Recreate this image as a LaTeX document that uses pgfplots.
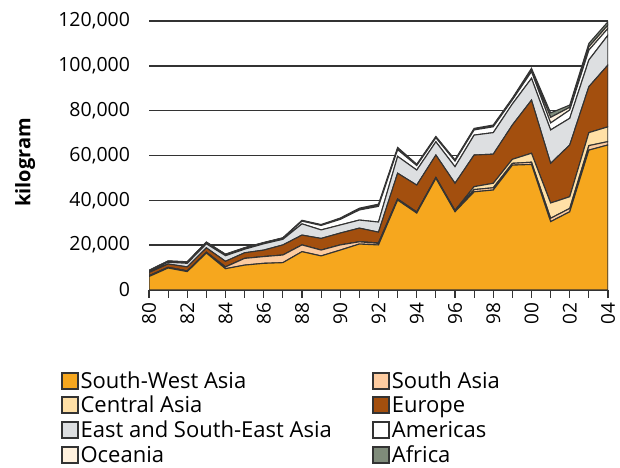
\documentclass[border=0pt]{standalone}
\usepackage{fontspec}
\setmainfont{Open Sans}
\setsansfont{Open Sans}
\usepackage{pgfplots}
\pgfplotsset{compat=1.18}

\definecolor{swasia}{HTML}{F6A71E}
\definecolor{sasia}{HTML}{FCCBA0}
\definecolor{casia}{HTML}{FFE0A6}
\definecolor{europe}{HTML}{A34F0E}
\definecolor{esasia}{HTML}{DDDFE1}
\definecolor{americas}{HTML}{FFFFFF}
\definecolor{oceania}{HTML}{FFF1DD}
\definecolor{africa}{HTML}{7F8B7A}
\definecolor{edge}{HTML}{333333}

% seizures by region, kilogram
\begin{document}
\begin{tikzpicture}
\useasboundingbox (0,0) rectangle (620bp,468bp);
\begin{axis}[
    at={(149bp,178bp)}, anchor=south west,
    scale only axis,
    width=459bp, height=269bp,
    xmin=1980, xmax=2004,
    ymin=0, ymax=120000,
    stack plots=y,
    axis lines*=left,
    y axis line style={draw=none},
    x axis line style={edge, line width=1.2bp},
    tick align=outside,
    major tick length=7.5bp,
    minor tick length=7.5bp,
    tick style={edge, line width=1.2bp},
    xtick={1980,1982,...,2004},
    xticklabels={80,82,84,86,88,90,92,94,96,98,00,02,04},
    minor xtick={1981,1983,...,2003},
    x tick label style={rotate=90, anchor=east, xshift=-2bp,
        font=\fontsize{19bp}{21bp}\selectfont},
    ytick={0,20000,...,120000},
    ytick style={draw=none},
    y tick label style={xshift=-8bp, font=\fontsize{19.5bp}{22bp}\selectfont},
    scaled y ticks=false,
    yticklabel style={
        /pgf/number format/.cd,
            fixed,
            1000 sep={,},
            assume math mode=true,
        /tikz/.cd
    },
    ymajorgrids,
    grid style={edge, line width=1.5bp},
    ylabel={\textbf{kilogram}},
    ylabel style={at={(axis description cs:-0.27,0.474)}, anchor=center,
        font=\fontsize{20bp}{22bp}\selectfont},
    legend columns=2,
    legend cell align=left,
    legend style={
        at={(axis description cs:-0.193,-0.295)}, anchor=north west,
        draw=none, fill=none, inner sep=0pt,
        font=\fontsize{22bp}{24bp}\selectfont,
        row sep=2.5bp,
        /tikz/every even column/.append style={column sep=38bp},
    },
    legend image code/.code={
        \draw[#1, draw=edge, line width=2bp] (0bp,-8bp) rectangle (16bp,8bp);
    },
    every axis plot/.append style={draw=edge, line width=1.1bp},
]
\addplot [fill=swasia] table {
1980 6.0e3
1981 9.8e3
1982 8.2e3
1983 16.5e3
1984 9.5e3
1985 11.1e3
1986 11.9e3
1987 12.2e3
1988 17.1e3
1989 15.2e3
1990 17.8e3
1991 20.5e3
1992 20.1e3
1993 40.1e3
1994 34.3e3
1995 49.8e3
1996 34.9e3
1997 43.8e3
1998 44.6e3
1999 55.7e3
2000 56.0e3
2001 30.5e3
2002 34.9e3
2003 62.4e3
2004 64.7e3
} \closedcycle;
\addlegendentry{South-West Asia}
\addplot [fill=sasia] table {
1980 0.3e3
1981 0.3e3
1982 0.3e3
1983 0.3e3
1984 0.8e3
1985 3.0e3
1986 3.0e3
1987 3.4e3
1988 3.0e3
1989 2.6e3
1990 2.3e3
1991 1.0e3
1992 0.7e3
1993 0.3e3
1994 0.3e3
1995 0.2e3
1996 0.3e3
1997 1.0e3
1998 1.0e3
1999 0.8e3
2000 1.0e3
2001 1.5e3
2002 1.5e3
2003 2.0e3
2004 1.5e3
} \closedcycle;
\addlegendentry{South Asia}
\addplot [fill=casia] table {
1980 0
1981 0
1982 0
1983 0
1984 0
1985 0
1986 0
1987 0
1988 0
1989 0
1990 0
1991 0
1992 0.2e3
1993 0.2e3
1994 0.2e3
1995 0.2e3
1996 0.3e3
1997 1.3e3
1998 2.0e3
1999 1.8e3
2000 4.0e3
2001 6.8e3
2002 5.2e3
2003 5.8e3
2004 6.6e3
} \closedcycle;
\addlegendentry{Central Asia}
\addplot [fill=europe] table {
1980 1.5e3
1981 1.5e3
1982 1.8e3
1983 2.0e3
1984 2.5e3
1985 2.5e3
1986 2.9e3
1987 4.5e3
1988 4.4e3
1989 5.2e3
1990 5.3e3
1991 6.1e3
1992 4.8e3
1993 11.5e3
1994 12.0e3
1995 10.0e3
1996 12.1e3
1997 14.1e3
1998 13.0e3
1999 15.3e3
2000 23.7e3
2001 17.7e3
2002 23.1e3
2003 20.5e3
2004 27.6e3
} \closedcycle;
\addlegendentry{Europe}
\addplot [fill=esasia] table {
1980 0.5e3
1981 0.8e3
1982 1.6e3
1983 1.8e3
1984 2.5e3
1985 1.6e3
1986 2.8e3
1987 2.5e3
1988 5.0e3
1989 3.8e3
1990 3.6e3
1991 3.6e3
1992 4.5e3
1993 7.5e3
1994 6.7e3
1995 5.9e3
1996 7.4e3
1997 8.9e3
1998 9.6e3
1999 9.4e3
2000 9.7e3
2001 14.9e3
2002 11.9e3
2003 11.9e3
2004 13.3e3
} \closedcycle;
\addlegendentry{East and South-East Asia}
\addplot [fill=americas] table {
1980 0.3e3
1981 0.4e3
1982 0.5e3
1983 0.6e3
1984 0.5e3
1985 0.5e3
1986 0.4e3
1987 0.5e3
1988 1.2e3
1989 2.0e3
1990 2.5e3
1991 4.5e3
1992 7.0e3
1993 3.0e3
1994 2.0e3
1995 1.8e3
1996 2.5e3
1997 2.3e3
1998 2.6e3
1999 1.8e3
2000 3.0e3
2001 3.1e3
2002 3.7e3
2003 4.4e3
2004 3.0e3
} \closedcycle;
\addlegendentry{Americas}
\addplot [fill=oceania] table {
1980 0.1e3
1981 0.1e3
1982 0.1e3
1983 0.1e3
1984 0.1e3
1985 0.1e3
1986 0.1e3
1987 0.1e3
1988 0.2e3
1989 0.2e3
1990 0.3e3
1991 0.4e3
1992 0.5e3
1993 0.5e3
1994 0.3e3
1995 0.3e3
1996 0.3e3
1997 0.4e3
1998 0.4e3
1999 0.4e3
2000 0.8e3
2001 2.5e3
2002 1.2e3
2003 1.5e3
2004 1.5e3
} \closedcycle;
\addlegendentry{Oceania}
\addplot [fill=africa] table {
1980 0.1e3
1981 0.1e3
1982 0.1e3
1983 0.1e3
1984 0.1e3
1985 0.1e3
1986 0.1e3
1987 0.1e3
1988 0.2e3
1989 0.2e3
1990 0.3e3
1991 0.4e3
1992 0.5e3
1993 0.5e3
1994 0.3e3
1995 0.3e3
1996 0.3e3
1997 0.3e3
1998 0.4e3
1999 0.4e3
2000 0.7e3
2001 2.0e3
2002 1.0e3
2003 1.5e3
2004 1.5e3
} \closedcycle;
\addlegendentry{Africa}
\end{axis}
\end{tikzpicture}
\end{document}
